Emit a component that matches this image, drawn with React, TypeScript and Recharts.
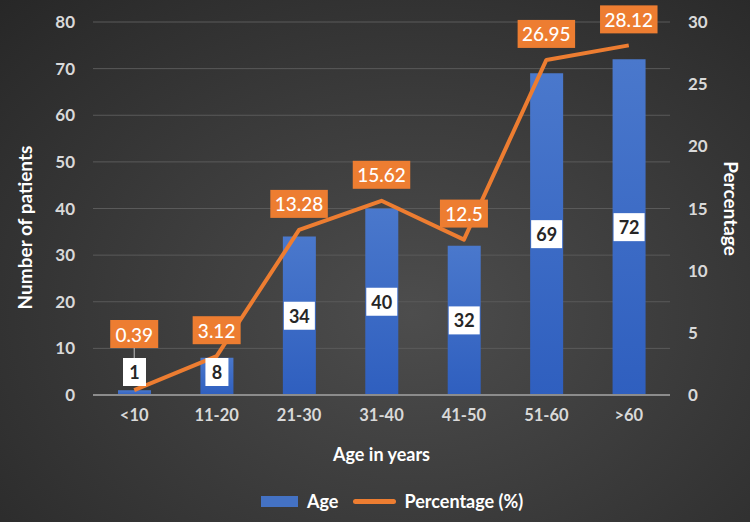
import React from "react";
import {
  ComposedChart,
  Bar,
  Line,
  XAxis,
  YAxis,
  CartesianGrid,
  Legend,
  LabelList,
  Label,
} from "recharts";

const categories = ["<10", "11-20", "21-30", "31-40", "41-50", "51-60", ">60"];
const patients = [1, 8, 34, 40, 32, 69, 72];
const percentages = [0.39, 3.12, 13.28, 15.62, 12.5, 26.95, 28.12];
const leftTicks = [0, 10, 20, 30, 40, 50, 60, 70, 80];
const rightTicks = [0, 5, 10, 15, 20, 25, 30];

const data = categories.map((c, i) => ({ cat: c, age: patients[i], pct: percentages[i] }));

const FONT = "Lato, 'Open Sans', sans-serif";
const ORANGE = "#ED7D31";
const BAR_LABEL_MAX_Y = 372;
const PCT_LABEL_MAX_Y = 334;

const BarValueLabel = (props: any) => {
  const { x, y, width, height, value } = props;
  const baseY = y + height;
  const cy = Math.min(y + height / 2, baseY - 23);
  const txt = String(value);
  const w = txt.length * 8 + 15;
  const h = 28;
  const cx = x + width / 2;
  return (
    <g>
      <rect x={cx - w / 2} y={cy - h / 2} width={w} height={h} fill="#ffffff" />
      <text
        x={cx}
        y={cy}
        textAnchor="middle"
        dominantBaseline="central"
        fontFamily={FONT}
        fontWeight={700}
        fontSize={18}
        fill="#262626"
      >
        {txt}
      </text>
    </g>
  );
};

const PctLabel = (props: any) => {
  const { x, y, value } = props;
  const txt = String(value);
  const w = txt.length * 9.5 + 10;
  const h = 28;
  const desired = y - 26;
  const cy = Math.min(desired, PCT_LABEL_MAX_Y);
  const shifted = desired > PCT_LABEL_MAX_Y;
  return (
    <g>
      {shifted && (
        <line x1={x} y1={cy + h / 2} x2={x} y2={BAR_LABEL_MAX_Y - 14} stroke="#bfbfbf" strokeWidth={1} />
      )}
      <rect x={x - w / 2} y={cy - h / 2} width={w} height={h} fill={ORANGE} />
      <text
        x={x}
        y={cy}
        textAnchor="middle"
        dominantBaseline="central"
        fontFamily={FONT}
        fontWeight={500}
        fontSize={19}
        fill="#ffffff"
      >
        {txt}
      </text>
    </g>
  );
};

const LegendContent = () => (
  <div
    style={{
      height: 52,
      position: "relative",
      fontFamily: FONT,
      fontWeight: 700,
      fontSize: 18,
      color: "#ffffff",
    }}
  >
    <div style={{ position: "absolute", left: 261, top: 20, display: "flex", alignItems: "center" }}>
      <div style={{ width: 37, height: 11, background: "#4472C4" }} />
      <span style={{ marginLeft: 9 }}>Age</span>
      <div style={{ width: 43, height: 5, borderRadius: 3, background: ORANGE, marginLeft: 15 }} />
      <span style={{ marginLeft: 8 }}>Percentage (%)</span>
    </div>
  </div>
);

export default function App() {
  return (
    <div
      style={{
        position: "absolute",
        left: 0,
        top: 0,
        width: 750,
        height: 522,
        background: "radial-gradient(ellipse at 55% 60%, #4d4d4d 0%, #3c3c3c 45%, #272727 100%)",
      }}
    >
      <ComposedChart
        width={750}
        height={522}
        data={data}
        margin={{ top: 22, right: 0, bottom: 0, left: 0 }}
        barCategoryGap="20%"
      >
        <defs>
          <linearGradient id="barGrad" x1="0" y1="0" x2="0" y2="1">
            <stop offset="0%" stopColor="#4a78cc" />
            <stop offset="100%" stopColor="#2f5fbf" />
          </linearGradient>
        </defs>
        <CartesianGrid yAxisId="left" vertical={false} stroke="#5a5a5a" strokeWidth={1} />
        <XAxis
          dataKey="cat"
          height={75}
          axisLine={{ stroke: "#8c8c8c", strokeWidth: 2 }}
          tickLine={false}
          tickSize={0}
          tickMargin={14}
          tick={{ fill: "#d9d9d9", fontFamily: FONT, fontWeight: 700, fontSize: 16.5 }}
          interval={0}
        >
          <Label
            value="Age in years"
            position="insideBottom"
            offset={9}
            fill="#ffffff"
            fontFamily={FONT}
            fontWeight={700}
            fontSize={18}
          />
        </XAxis>
        <YAxis
          yAxisId="left"
          orientation="left"
          width={93}
          domain={[0, 80]}
          ticks={leftTicks}
          axisLine={false}
          tickLine={false}
          tickSize={0}
          tickMargin={18}
          tick={{ fill: "#d9d9d9", fontFamily: FONT, fontWeight: 700, fontSize: 17 }}
        >
          <Label
            value="Number of patients"
            angle={-90}
            position="insideLeft"
            offset={25}
            dy={19}
            fill="#ffffff"
            fontFamily={FONT}
            fontWeight={700}
            fontSize={19}
            style={{ textAnchor: "middle" }}
          />
        </YAxis>
        <YAxis
          yAxisId="right"
          orientation="right"
          width={80}
          domain={[0, 30]}
          ticks={rightTicks}
          axisLine={false}
          tickLine={false}
          tickSize={0}
          tickMargin={18}
          tick={{ fill: "#d9d9d9", fontFamily: FONT, fontWeight: 700, fontSize: 17 }}
        >
          <Label
            value="Percentage"
            angle={90}
            position="insideRight"
            offset={19}
            fill="#ffffff"
            fontFamily={FONT}
            fontWeight={700}
            fontSize={19}
            style={{ textAnchor: "middle" }}
          />
        </YAxis>
        <Legend verticalAlign="bottom" height={52} content={<LegendContent />} />
        <Bar
          yAxisId="left"
          dataKey="age"
          name="Age"
          fill="url(#barGrad)"
          barSize={33}
          isAnimationActive={false}
        >
          <LabelList dataKey="age" content={<BarValueLabel />} />
        </Bar>
        <Line
          yAxisId="right"
          dataKey="pct"
          name="Percentage (%)"
          stroke={ORANGE}
          strokeWidth={4}
          dot={false}
          activeDot={false}
          strokeLinejoin="round"
          isAnimationActive={false}
        >
          <LabelList dataKey="pct" content={<PctLabel />} />
        </Line>
      </ComposedChart>
    </div>
  );
}
